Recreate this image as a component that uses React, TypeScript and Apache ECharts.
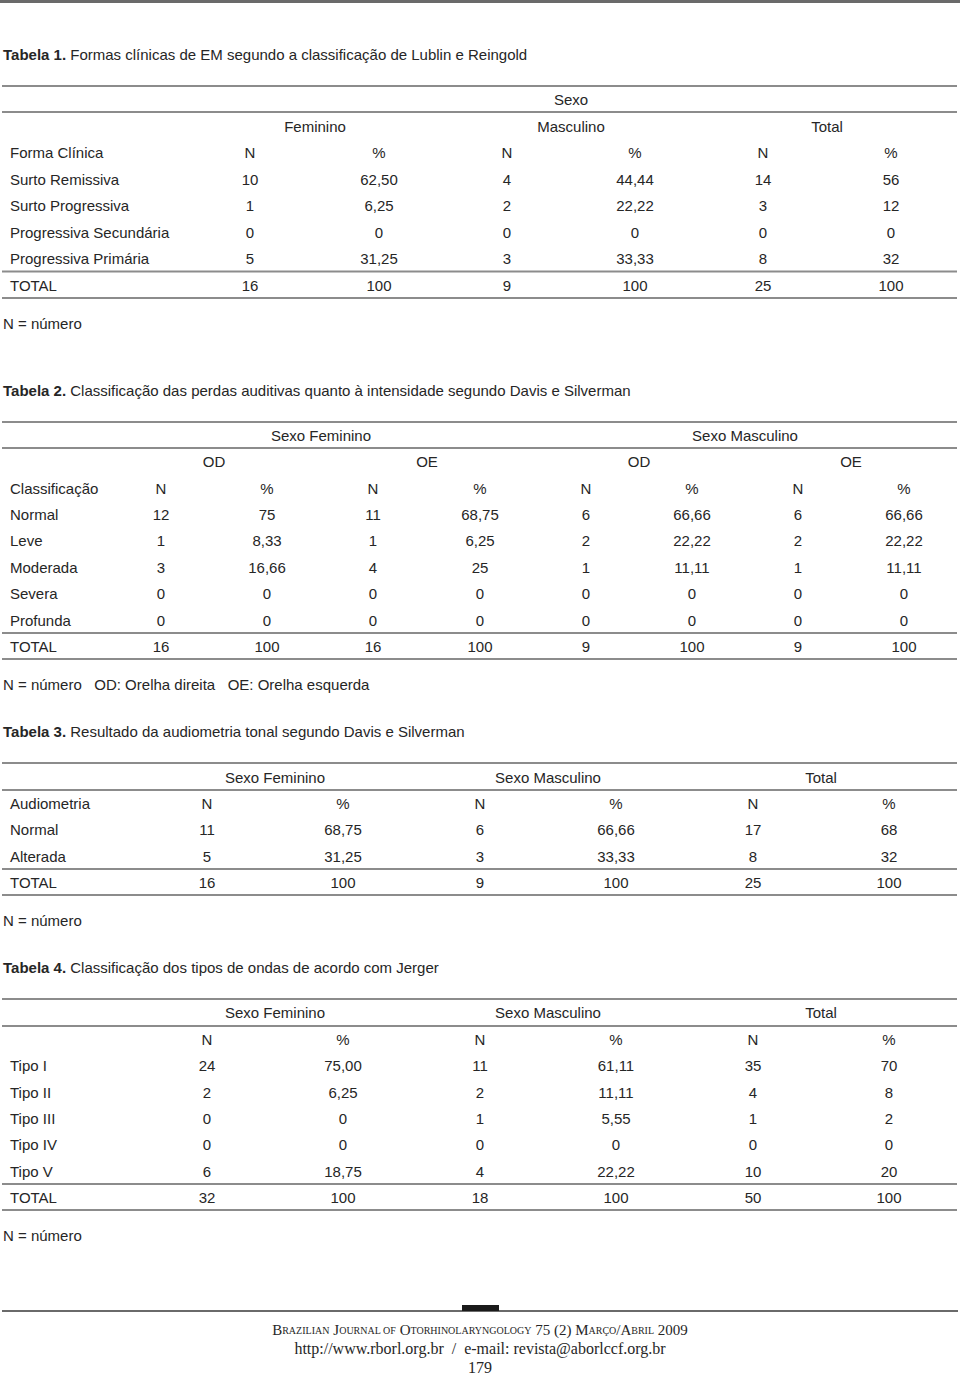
import React, { useEffect, useRef } from "react";
import * as echarts from "echarts";

// ---------- DATA ----------
const t1Title = "Formas clínicas de EM segundo a classificação de Lublin e Reingold";
const t1Labels = ["Surto Remissiva", "Surto Progressiva", "Progressiva Secundária", "Progressiva Primária", "TOTAL"];
const t1FemN = ["10", "1", "0", "5", "16"];
const t1FemPct = ["62,50", "6,25", "0", "31,25", "100"];
const t1MasN = ["4", "2", "0", "3", "9"];
const t1MasPct = ["44,44", "22,22", "0", "33,33", "100"];
const t1TotN = ["14", "3", "0", "8", "25"];
const t1TotPct = ["56", "12", "0", "32", "100"];

const t2Title = "Classificação das perdas auditivas quanto à intensidade segundo Davis e Silverman";
const t2Labels = ["Normal", "Leve", "Moderada", "Severa", "Profunda", "TOTAL"];
const t2FemOdN = ["12", "1", "3", "0", "0", "16"];
const t2FemOdPct = ["75", "8,33", "16,66", "0", "0", "100"];
const t2FemOeN = ["11", "1", "4", "0", "0", "16"];
const t2FemOePct = ["68,75", "6,25", "25", "0", "0", "100"];
const t2MasOdN = ["6", "2", "1", "0", "0", "9"];
const t2MasOdPct = ["66,66", "22,22", "11,11", "0", "0", "100"];
const t2MasOeN = ["6", "2", "1", "0", "0", "9"];
const t2MasOePct = ["66,66", "22,22", "11,11", "0", "0", "100"];

const t3Title = "Resultado da audiometria tonal segundo Davis e Silverman";
const t3Labels = ["Normal", "Alterada", "TOTAL"];
const t3FemN = ["11", "5", "16"];
const t3FemPct = ["68,75", "31,25", "100"];
const t3MasN = ["6", "3", "9"];
const t3MasPct = ["66,66", "33,33", "100"];
const t3TotN = ["17", "8", "25"];
const t3TotPct = ["68", "32", "100"];

const t4Title = "Classificação dos tipos de ondas de acordo com Jerger";
const t4Labels = ["Tipo I", "Tipo II", "Tipo III", "Tipo IV", "Tipo V", "TOTAL"];
const t4FemN = ["24", "2", "0", "0", "6", "32"];
const t4FemPct = ["75,00", "6,25", "0", "0", "18,75", "100"];
const t4MasN = ["11", "2", "1", "0", "4", "18"];
const t4MasPct = ["61,11", "11,11", "5,55", "0", "22,22", "100"];
const t4TotN = ["35", "4", "1", "0", "10", "50"];
const t4TotPct = ["70", "8", "2", "0", "20", "100"];

// ---------- DRAWING ----------
const FONT = "'Liberation Sans', Arial, Helvetica, sans-serif";
const SERIF = "'Liberation Serif', 'Times New Roman', serif";
const INK = "#262626";
const RULE = "#8c8c8c";

function txt(text: string, x: number, y: number, align: string = "center", extra: any = {}) {
  return {
    type: "text",
    x,
    y,
    silent: true,
    style: {
      text,
      fill: INK,
      fontFamily: FONT,
      fontSize: 15,
      align,
      verticalAlign: "middle",
      textAlign: align,
      textVerticalAlign: "middle",
      ...extra,
    },
  };
}

function rule(y: number, x1 = 2, x2 = 957, w = 2, c = RULE) {
  return {
    type: "line",
    silent: true,
    shape: { x1, y1: y, x2, y2: y },
    style: { stroke: c, lineWidth: w },
  };
}

function title(num: string, t: string, y: number) {
  return {
    type: "text",
    x: 3,
    y,
    silent: true,
    style: {
      text: "{b|Tabela " + num + ".} " + t,
      fill: INK,
      fontFamily: FONT,
      fontSize: 15,
      align: "left",
      verticalAlign: "middle",
      textAlign: "left",
      textVerticalAlign: "middle",
      rich: { b: { fontWeight: "bold", fontFamily: FONT, fontSize: 15, fill: INK } },
    },
  };
}

function buildElements() {
  const els: any[] = [];
  // top rule
  els.push(rule(1.5, 0, 960, 3, "#6a6a6a"));

  // ----- Table 1 -----
  els.push(title("1", t1Title, 54));
  els.push(rule(86));
  els.push(rule(112));
  els.push(txt("Sexo", 571, 99));
  els.push(txt("Feminino", 315, 126));
  els.push(txt("Masculino", 571, 126));
  els.push(txt("Total", 827, 126));
  const c1 = [250, 379, 507, 635, 763, 891];
  els.push(txt("Forma Clínica", 10, 152, "left"));
  ["N", "%", "N", "%", "N", "%"].forEach((h, i) => els.push(txt(h, c1[i], 152)));
  const t1Y = [179, 205, 232, 258, 285];
  const t1Cols = [t1FemN, t1FemPct, t1MasN, t1MasPct, t1TotN, t1TotPct];
  t1Labels.forEach((lab, r) => {
    els.push(txt(lab, 10, t1Y[r], "left"));
    t1Cols.forEach((col, i) => els.push(txt(col[r], c1[i], t1Y[r])));
  });
  els.push(rule(271.5));
  els.push(rule(298));
  els.push(txt("N = número", 3, 323, "left"));

  // ----- Table 2 -----
  els.push(title("2", t2Title, 390));
  els.push(rule(422));
  els.push(rule(448));
  els.push(txt("Sexo Feminino", 321, 435));
  els.push(txt("Sexo Masculino", 745, 435));
  const g2 = [214, 427, 639, 851];
  ["OD", "OE", "OD", "OE"].forEach((h, i) => els.push(txt(h, g2[i], 461)));
  const c2 = [161, 267, 373, 480, 586, 692, 798, 904];
  els.push(txt("Classificação", 10, 488, "left"));
  ["N", "%", "N", "%", "N", "%", "N", "%"].forEach((h, i) => els.push(txt(h, c2[i], 488)));
  const t2Y = [514, 540, 567, 593, 620, 646];
  const t2Cols = [t2FemOdN, t2FemOdPct, t2FemOeN, t2FemOePct, t2MasOdN, t2MasOdPct, t2MasOeN, t2MasOePct];
  t2Labels.forEach((lab, r) => {
    els.push(txt(lab, 10, t2Y[r], "left"));
    t2Cols.forEach((col, i) => els.push(txt(col[r], c2[i], t2Y[r])));
  });
  els.push(rule(633));
  els.push(rule(659));
  els.push(txt("N = número   OD: Orelha direita   OE: Orelha esquerda", 3, 684, "left"));

  // ----- Table 3 -----
  const c34 = [207, 343, 480, 616, 753, 889];
  els.push(title("3", t3Title, 731));
  els.push(rule(763));
  els.push(rule(790));
  els.push(txt("Sexo Feminino", 275, 777));
  els.push(txt("Sexo Masculino", 548, 777));
  els.push(txt("Total", 821, 777));
  els.push(txt("Audiometria", 10, 803, "left"));
  ["N", "%", "N", "%", "N", "%"].forEach((h, i) => els.push(txt(h, c34[i], 803)));
  const t3Y = [829, 856, 882];
  const t3Cols = [t3FemN, t3FemPct, t3MasN, t3MasPct, t3TotN, t3TotPct];
  t3Labels.forEach((lab, r) => {
    els.push(txt(lab, 10, t3Y[r], "left"));
    t3Cols.forEach((col, i) => els.push(txt(col[r], c34[i], t3Y[r])));
  });
  els.push(rule(869));
  els.push(rule(895));
  els.push(txt("N = número", 3, 920, "left"));

  // ----- Table 4 -----
  els.push(title("4", t4Title, 967));
  els.push(rule(999));
  els.push(rule(1026));
  els.push(txt("Sexo Feminino", 275, 1012));
  els.push(txt("Sexo Masculino", 548, 1012));
  els.push(txt("Total", 821, 1012));
  ["N", "%", "N", "%", "N", "%"].forEach((h, i) => els.push(txt(h, c34[i], 1039)));
  const t4Y = [1065, 1092, 1118, 1144, 1171, 1197];
  const t4Cols = [t4FemN, t4FemPct, t4MasN, t4MasPct, t4TotN, t4TotPct];
  t4Labels.forEach((lab, r) => {
    els.push(txt(lab, 10, t4Y[r], "left"));
    t4Cols.forEach((col, i) => els.push(txt(col[r], c34[i], t4Y[r])));
  });
  els.push(rule(1184));
  els.push(rule(1210));
  els.push(txt("N = número", 3, 1235, "left"));

  // ----- Footer -----
  els.push(rule(1311, 2, 958, 2, "#6a6a6a"));
  els.push({
    type: "rect",
    silent: true,
    shape: { x: 462, y: 1305, width: 37, height: 6 },
    style: { fill: "#1a1a1a" },
  });
  els.push(
    txt(
      "B{s|RAZILIAN} J{s|OURNAL OF} O{s|TORHINOLARYNGOLOGY} 75 (2) M{s|ARÇO}/A{s|BRIL} 2009",
      480,
      1330,
      "center",
      {
        fontFamily: SERIF,
        fontSize: 15,
        rich: { s: { fontFamily: SERIF, fontSize: 10, fill: INK } },
      }
    )
  );
  els.push(
    txt("http://www.rborl.org.br  /  e-mail: revista@aborlccf.org.br", 480, 1348, "center", {
      fontFamily: SERIF,
      fontSize: 16,
    })
  );
  els.push(txt("179", 480, 1367, "center", { fontFamily: SERIF, fontSize: 16 }));
  return els;
}

export default function App() {
  const ref = useRef<HTMLDivElement>(null);
  useEffect(() => {
    if (!ref.current) return;
    const chart = echarts.init(ref.current, null, { renderer: "svg" });
    chart.setOption({
      animation: false,
      backgroundColor: "#ffffff",
      graphic: { elements: buildElements() },
    });
    return () => chart.dispose();
  }, []);
  return (
    <div
      ref={ref}
      style={{ position: "absolute", left: 0, top: 0, width: 960, height: 1377, background: "#fff" }}
    />
  );
}
